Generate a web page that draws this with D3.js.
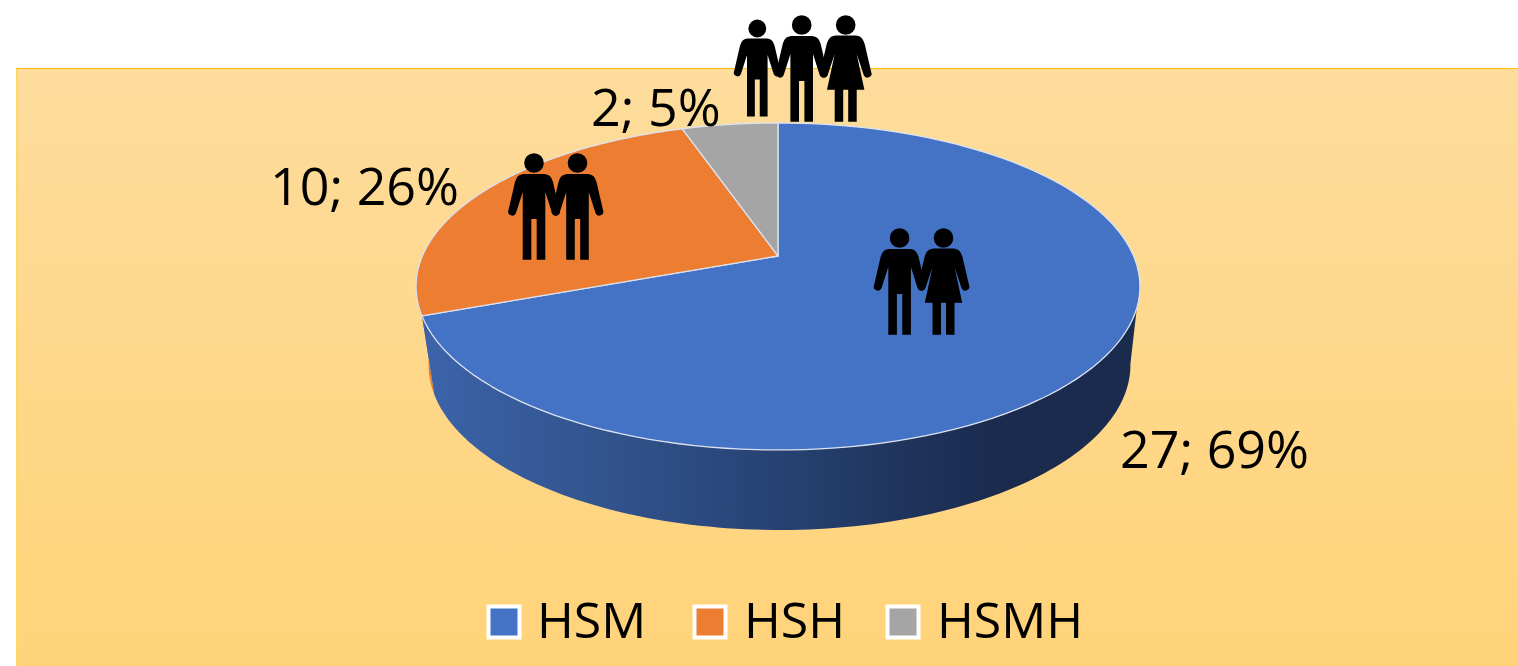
<!DOCTYPE html>
<html><head><meta charset="utf-8">
<script src="https://cdn.jsdelivr.net/npm/d3@7/dist/d3.min.js"></script>
<style>html,body{margin:0;padding:0;background:#fff;overflow:hidden}svg{display:block}text{font-family:"Open Sans",sans-serif;fill:#000}</style>
</head><body><svg id="c" width="1518" height="666"></svg>
<script>
const categories = ["HSM","HSH","HSMH"];
const counts = [27,10,2];
const percents = ["69%","26%","5%"];
const colors = ["#4472c4","#ed7d31","#a5a5a5"];

const svg = d3.select("#c");
const defs = svg.append("defs");
const bg = defs.append("linearGradient").attr("id","bg").attr("x1",0).attr("y1",0).attr("x2",0).attr("y2",1);
bg.append("stop").attr("offset","0").attr("stop-color","#fddc9c");
bg.append("stop").attr("offset","1").attr("stop-color","#ffd379");
const wall = defs.append("linearGradient").attr("id","wall").attr("gradientUnits","userSpaceOnUse")
  .attr("x1",425).attr("x2",1135).attr("y1",0).attr("y2",0);
[[0,"#3c63aa"],[.23,"#33558f"],[.385,"#2c4a80"],[.6,"#223a66"],[.8,"#1a2b4e"],[1,"#1a2b4e"]].forEach(s=>wall.append("stop").attr("offset",s[0]).attr("stop-color",s[1]));

svg.append("rect").attr("x",16).attr("y",68).attr("width",1502).attr("height",598).attr("fill","url(#bg)");
svg.append("line").attr("x1",16).attr("x2",1518).attr("y1",68.5).attr("y2",68.5).attr("stroke","#ffc000").attr("stroke-width",1);
svg.append("line").attr("x1",17).attr("x2",17).attr("y1",69).attr("y2",666).attr("stroke","#ffd968").attr("stroke-width",2);

// perspective projection of a flat disc
const apex = {x:778,y:256}, p = 0.1865, kx = 355.6, ky = 157.8;
function rim(a){
  const u = Math.sin(a), v = Math.cos(a), d = 1 + p*v;
  return [apex.x + kx*u/d, apex.y - ky*v/d];
}
// lower face of the disc: same projection, shrunk and shifted
const lowSx = 0.9696, lowSy = 1.01, lowDx = 1.5, lowDy = 78.4;
function rimLow(a){
  const [x,y] = rim(a);
  return [apex.x + (x-apex.x)*lowSx + lowDx, 286.5 + (y-286.5)*lowSy + lowDy];
}
const pieGen = d3.pie().sort(null).value(d=>d);
const arcs = pieGen(counts);
const line = d3.line();
const sample = (a0,a1,f)=>d3.range(0,121).map(i=>f(a0+(a1-a0)*i/120));

// Side walls: orange sliver first, then blue front wall
const wallStart = 1.886, wallStartLow = 1.75;   // right silhouette on the two rims
const orange = arcs[1], blue = arcs[0];
svg.append("path").attr("fill",colors[1])
  .attr("d",line(sample(orange.startAngle,orange.startAngle+0.35,rim).concat(sample(orange.startAngle+0.35,orange.startAngle,rimLow)))+"Z");
svg.append("path").attr("fill","url(#wall)")
  .attr("d",line(sample(wallStart,blue.endAngle,rim).concat(sample(blue.endAngle,wallStartLow,rimLow)))+"Z");

// Top faces
svg.selectAll("path.slice").data(arcs).join("path").attr("class","slice")
  .attr("fill",(d,i)=>colors[i])
  .attr("stroke","#dbe2f0").attr("stroke-width",1.3).attr("stroke-linejoin","round")
  .attr("d",d=>line([[apex.x,apex.y]].concat(sample(d.startAngle,d.endAngle,rim)))+"Z");

// People icons
const manGlyph = "M-8,11 C-15,11 -17,13 -19,19 L-25.5,47 A3.9,3.9 0 0 0 -18,50 L-11.3,29 L-11.3,96.7 L-2.7,96.7 L-2.7,56 L2.7,56 L2.7,96.7 L11.3,96.7 L11.3,29 L18,50 A3.9,3.9 0 0 0 25.5,47 L19,19 C17,13 15,11 8,11 Z";
const womanGlyph = "M-8,10.5 C-15,10.5 -17,13 -19,19 L-25.5,47 A3.9,3.9 0 0 0 -18,50 L-11,29 L-18.7,64.7 L-11,64.7 L-11,96.7 L-2.5,96.7 L-2.5,64.7 L2.5,64.7 L2.5,96.7 L11,96.7 L11,64.7 L18.7,64.7 L11,29 L18,50 A3.9,3.9 0 0 0 25.5,47 L19,19 C17,13 15,10.5 8,10.5 Z";
function person(g,hx,hy,s,woman){
  const n = g.append("g").attr("transform",`translate(${hx},${hy}) scale(${s})`).attr("fill","#000");
  n.append("circle").attr("r",9.8);
  n.append("path").attr("d",woman?womanGlyph:manGlyph);
}
const icons = svg.append("g");
person(icons,899.6,238,1,false); person(icons,943.5,238,1,true);
person(icons,534,163,1,false); person(icons,577.5,163,1,false);
person(icons,757.3,28.5,0.91,false); person(icons,801.7,25,1,false); person(icons,845.7,25,1,true);

// Data labels
const labelPos = [[1120,468],[270,205],[591,126]];
svg.selectAll("text.lab").data(categories).join("text").attr("class","lab")
  .attr("x",(d,i)=>labelPos[i][0]).attr("y",(d,i)=>labelPos[i][1])
  .attr("font-size",52)
  .text((d,i)=>`${counts[i]}; ${percents[i]}`);

// Legend
const legendX = [504,710,903], legendTextX = [537,744,937];
const lg = svg.selectAll("g.leg").data(categories).join("g").attr("class","leg");
lg.append("rect").attr("x",(d,i)=>legendX[i]-15.5).attr("y",606.5).attr("width",31).attr("height",31)
  .attr("fill",(d,i)=>colors[i]).attr("stroke","#fff").attr("stroke-width",4);
lg.append("text").attr("x",(d,i)=>legendTextX[i]).attr("y",638).attr("font-size",50).text(d=>d);
</script></body></html>
